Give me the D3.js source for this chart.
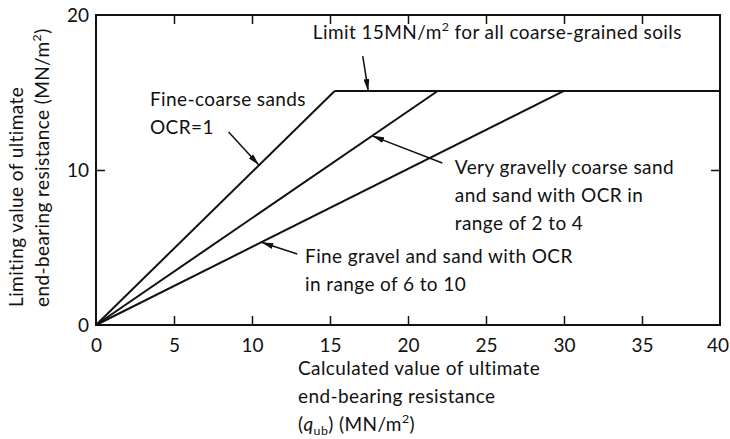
<!DOCTYPE html>
<html>
<head>
<meta charset="utf-8">
<script src="https://cdn.jsdelivr.net/npm/d3@7"></script>
<style>
  html, body { margin: 0; padding: 0; background: #fff; }
  svg text { font-family: Lato, "Open Sans", sans-serif; fill: #111; }
</style>
</head>
<body>
<svg id="chart" width="730" height="439"></svg>
<script>
// ---- data ----
const xTicks = [0, 5, 10, 15, 20, 25, 30, 35, 40];
const yTicks = [0, 10, 20];
const xDomain = [0, 40];
const yDomain = [0, 20];
const seriesNames = [
  "Fine-coarse sands OCR=1",
  "Very gravelly coarse sand and sand with OCR in range of 2 to 4",
  "Fine gravel and sand with OCR in range of 6 to 10"
];
const breakX = [15.3, 21.9, 30.0];   // x where each line reaches the limit
const limitValue = 15.1;             // limiting value (MN/m2)
const limitEndX = 40;

// annotation labels (text lines); |..| marks a superscript
const annLimitLines = ["Limit 15MN/m|2| for all coarse-grained soils"];
const annSeries1Lines = ["Fine-coarse sands", "OCR=1"];
const annSeries2Lines = ["Very gravelly coarse sand", "and sand with OCR in", "range of 2 to 4"];
const annSeries3Lines = ["Fine gravel and sand with OCR", "in range of 6 to 10"];

const annPos = [
  {lines: annLimitLines,   tx: 13.9, ty: 18.45, tail: [17.1, 17.35], tipX: 17.45, on: "limit"},
  {lines: annSeries1Lines, tx: 3.46, ty: 14.13, tail: [8.5, 12.45],  tipX: 10.45, on: 0},
  {lines: annSeries2Lines, tx: 23.0, ty: 9.74,  tail: [22.2, 10.45], tipX: 17.7,  on: 1},
  {lines: annSeries3Lines, tx: 13.4, ty: 4.0,   tail: [12.9, 4.58],  tipX: 10.6,  on: 2}
];

// ---- layout ----
const W = 730, H = 439;
const m = {left: 96, right: 10, top: 15, bottom: 114};
const svg = d3.select("#chart");
const x = d3.scaleLinear().domain(xDomain).range([m.left, W - m.right]);
const y = d3.scaleLinear().domain(yDomain).range([H - m.bottom, m.top]);
const fs = 19;
const ls = "0.4px";
const lineStepPx = 28;

svg.append("defs").append("marker")
  .attr("id", "arrow").attr("viewBox", "0 0 12 6")
  .attr("refX", 12).attr("refY", 3)
  .attr("markerWidth", 12).attr("markerHeight", 6)
  .attr("markerUnits", "userSpaceOnUse")
  .attr("orient", "auto")
  .append("path").attr("d", "M0,0 L12,3 L0,6 Z").attr("fill", "#111");

// frame
svg.append("rect")
  .attr("x", x(xDomain[0])).attr("y", y(yDomain[1]))
  .attr("width", x(xDomain[1]) - x(xDomain[0]))
  .attr("height", y(yDomain[0]) - y(yDomain[1]))
  .attr("fill", "none").attr("stroke", "#111").attr("stroke-width", 2);

// axes (ticks inward)
const tickLen = 9;
const xAxisB = d3.axisBottom(x).tickValues(xTicks).tickSize(-tickLen).tickPadding(tickLen + 5).tickFormat(d3.format("d"));
const gxb = svg.append("g").attr("transform", `translate(0,${y(0)})`).call(xAxisB);
const xAxisT = d3.axisTop(x).tickValues(xTicks.slice(1, -1)).tickSize(-tickLen).tickFormat("");
const gxt = svg.append("g").attr("transform", `translate(0,${y(20)})`).call(xAxisT);
const yAxisL = d3.axisLeft(y).tickValues(yTicks).tickSize(-tickLen).tickPadding(6).tickFormat(d3.format("d"));
const gyl = svg.append("g").attr("transform", `translate(${x(0)},0)`).call(yAxisL);
const yAxisR = d3.axisRight(y).tickValues(yTicks.slice(1, -1)).tickSize(-tickLen).tickFormat("");
const gyr = svg.append("g").attr("transform", `translate(${x(40)},0)`).call(yAxisR);
[gxb, gxt, gyl, gyr].forEach(g => {
  g.select(".domain").remove();
  g.selectAll(".tick line").attr("stroke", "#111").attr("stroke-width", 1.5);
  g.selectAll(".tick text").attr("font-size", fs).attr("font-family", "Lato, sans-serif").attr("fill", "#111");
});
gyl.selectAll(".tick line").filter(d => d === 0 || d === 20).remove();
gxb.selectAll(".tick line").filter(d => d === 0 || d === 40).remove();
gxb.selectAll(".tick text").filter(d => d === xDomain[1]).attr("dx", -2.5);
gyl.selectAll(".tick text").attr("dx", -1);

// series lines
const lineGen = d3.line().x(d => x(d[0])).y(d => y(d[1]));
const seriesData = breakX.map((bx, i) => ({name: seriesNames[i], pts: [[0, 0], [bx, limitValue]]}));
svg.selectAll("path.series").data(seriesData).join("path")
  .attr("class", "series")
  .attr("d", d => lineGen(d.pts))
  .attr("fill", "none").attr("stroke", "#111").attr("stroke-width", 2);
svg.append("path")
  .attr("d", lineGen([[d3.min(breakX), limitValue], [limitEndX, limitValue]]))
  .attr("fill", "none").attr("stroke", "#111").attr("stroke-width", 2);

// helper: write text with |sup| markers
function writeRich(t, str) {
  const parts = str.split("|");
  let pending = 0;
  parts.forEach((p, i) => {
    if (p === "") return;
    const sp = t.append("tspan");
    if (i % 2 === 1) {
      sp.attr("dy", pending - 8).attr("font-size", fs * 0.65).text(p);
      pending = 8;
    } else {
      if (pending) sp.attr("dy", pending);
      sp.text(p);
      pending = 0;
    }
  });
}

// annotations
annPos.forEach(a => {
  a.lines.forEach((ln, j) => {
    const t = svg.append("text")
      .attr("x", x(a.tx)).attr("y", y(a.ty) + j * lineStepPx)
      .attr("font-size", fs).attr("letter-spacing", ls);
    writeRich(t, ln);
  });
  const tipY = a.on === "limit" ? limitValue : limitValue * a.tipX / breakX[a.on];
  svg.append("line")
    .attr("x1", x(a.tail[0])).attr("y1", y(a.tail[1]))
    .attr("x2", x(a.tipX)).attr("y2", y(tipY))
    .attr("stroke", "#111").attr("stroke-width", 1.5)
    .attr("marker-end", "url(#arrow)");
});

// y-axis title (two lines, rotated)
const yTitle = svg.append("g").attr("transform", `translate(0,307) rotate(-90)`);
yTitle.append("text").attr("x", 0).attr("y", 23).attr("font-size", fs).attr("letter-spacing", ls)
  .text("Limiting value of ultimate");
const yt2 = yTitle.append("text").attr("x", 0).attr("y", 49).attr("font-size", fs).attr("letter-spacing", ls);
writeRich(yt2, "end-bearing resistance (MN/m|2|)");

// x-axis title (three lines)
const xtX = 298;
svg.append("text").attr("x", xtX).attr("y", 375).attr("font-size", fs).attr("letter-spacing", ls)
  .text("Calculated value of ultimate");
svg.append("text").attr("x", xtX).attr("y", 403).attr("font-size", fs).attr("letter-spacing", ls)
  .text("end-bearing resistance");
const xt3 = svg.append("text").attr("x", xtX).attr("y", 431).attr("font-size", fs).attr("letter-spacing", ls);
xt3.append("tspan").text("(");
xt3.append("tspan").attr("font-style", "italic").text("q");
xt3.append("tspan").attr("dy", 4).attr("font-size", fs * 0.65).text("ub");
xt3.append("tspan").attr("dy", -4).text(") (MN/m");
xt3.append("tspan").attr("dy", -8).attr("font-size", fs * 0.65).text("2");
xt3.append("tspan").attr("dy", 8).text(")");
</script>
</body>
</html>
